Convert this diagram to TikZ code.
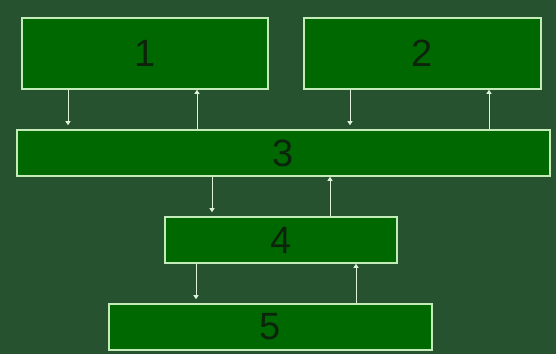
\documentclass[tikz,border=0pt]{standalone}
\usepackage{fontspec}
\setmainfont{Liberation Sans}
\usetikzlibrary{arrows.meta, positioning, calc}
\definecolor{marble}{RGB}{38, 82, 48}
\definecolor{boxgreen}{RGB}{0, 104, 0}
\definecolor{rimgreen}{RGB}{196, 236, 186}
\definecolor{digitdark}{RGB}{12, 36, 12}
\definecolor{linkwhite}{RGB}{225, 240, 222}

\begin{document}
\begin{tikzpicture}[x=1pt, y=-1pt,
    blk/.style={draw=rimgreen, line width=1.6pt, fill=boxgreen, inner sep=0pt,
      font=\fontsize{38}{38}\selectfont, text=digitdark},
    dn/.style={linkwhite, line width=0.9pt, -{Triangle[width=5pt,length=4pt]}, shorten >=4pt},
    up/.style={linkwhite, line width=0.9pt, -{Triangle[width=5pt,length=4pt]}}]
        % Background
        \fill[marble] (0,0) rectangle (556,354);
        \useasboundingbox (0,0) rectangle (556,354);

        % Boxes
        \node[blk, minimum width=246, minimum height=71] (box1) at (145,53.5) {1};
        \node[blk, minimum width=237, minimum height=71] (box2) at (422.5,53.5) {2};
        \node[blk, minimum width=533, minimum height=46] (box3) at (283.5,153) {3};
        \node[blk, minimum width=232, minimum height=46] (box4) at (281,240) {4};
        \node[blk, minimum width=323, minimum height=46] (box5) at (270.5,327) {5};

        % Arrow columns
        \coordinate (c1) at (68,0);
        \coordinate (c2) at (197,0);
        \coordinate (c3) at (350,0);
        \coordinate (c4) at (489,0);
        \coordinate (c5) at (212,0);
        \coordinate (c6) at (330,0);
        \coordinate (c7) at (196,0);
        \coordinate (c8) at (356,0);

        % Links
        \draw[dn] (box1.south -| c1) -- (box3.north -| c1);
        \draw[up] (box3.north -| c2) -- (box1.south -| c2);
        \draw[dn] (box2.south -| c3) -- (box3.north -| c3);
        \draw[up] (box3.north -| c4) -- (box2.south -| c4);
        \draw[dn] (box3.south -| c5) -- (box4.north -| c5);
        \draw[up] (box4.north -| c6) -- (box3.south -| c6);
        \draw[dn] (box4.south -| c7) -- (box5.north -| c7);
        \draw[up] (box5.north -| c8) -- (box4.south -| c8);
\end{tikzpicture}
\end{document}
